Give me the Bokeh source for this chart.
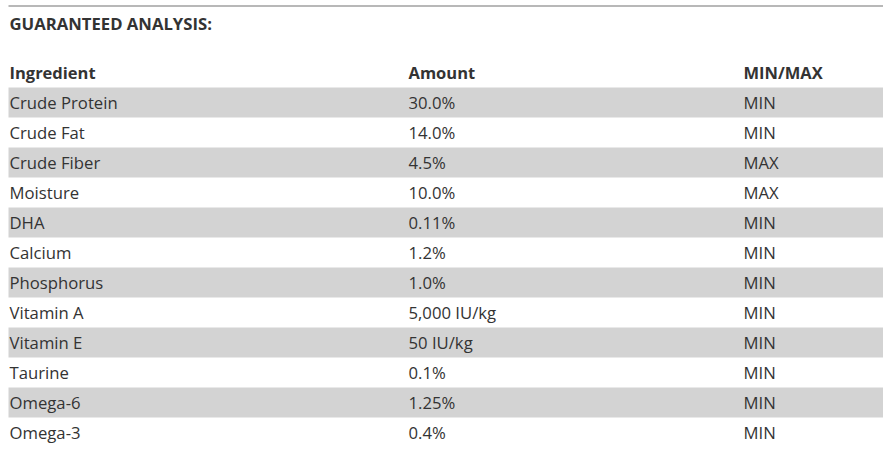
from bokeh.plotting import figure
from bokeh.models import Range1d, ColumnDataSource
from bokeh.core.properties import value
from bokeh.embed import file_html
from bokeh.resources import INLINE

title_text = "GUARANTEED ANALYSIS:"
headers = ["Ingredient", "Amount", "MIN/MAX"]
ingredients = ["Crude Protein", "Crude Fat", "Crude Fiber", "Moisture", "DHA", "Calcium",
               "Phosphorus", "Vitamin A", "Vitamin E", "Taurine", "Omega-6", "Omega-3"]
amounts = ["30.0%", "14.0%", "4.5%", "10.0%", "0.11%", "1.2%", "1.0%", "5,000 IU/kg",
           "50 IU/kg", "0.1%", "1.25%", "0.4%"]
minmax = ["MIN", "MIN", "MAX", "MAX", "MIN", "MIN", "MIN", "MIN", "MIN", "MIN", "MIN", "MIN"]

W, H = 883, 456
FONT = "Open Sans"
TXT = "#333333"
col_x = [9, 408, 743]
row_h = 30
first_row_top = 87
header_y = 72
title_y = 23
rule_y = 5.5

p = figure(width=W, height=H, output_backend="svg", toolbar_location=None,
           x_range=Range1d(0, W), y_range=Range1d(H, 0), min_border=0)
p.axis.visible = False
p.grid.visible = False
p.outline_line_color = None
p.background_fill_color = "white"
p.border_fill_color = "white"

# top rule
p.segment(x0=[col_x[0] - 1], y0=[rule_y], x1=[W], y1=[rule_y], line_color="#a0a0a0", line_width=1.5)

# title
p.text(x=[col_x[0]], y=[title_y], text=[title_text], text_font=value(FONT),
       text_font_style="bold", text_font_size="16.7px", text_color=TXT,
       text_baseline="middle", text_align="left")

# header
p.text(x=col_x, y=[header_y] * 3, text=headers, text_font=value(FONT),
       text_font_style="bold", text_font_size="16.5px", text_color=TXT,
       text_baseline="middle", text_align="left")

n = len(ingredients)
tops = [first_row_top + i * row_h for i in range(n)]
centers = [t + row_h / 2 for t in tops]

# striped bands (even rows)
band_src = ColumnDataSource(dict(
    top=[tops[i] for i in range(n) if i % 2 == 0],
    bottom=[tops[i] + row_h for i in range(n) if i % 2 == 0],
))
p.quad(left=col_x[0] - 1, right=W, top="top", bottom="bottom", source=band_src,
       fill_color="#d3d3d3", line_color=None)

for cx, col in zip(col_x, [ingredients, amounts, minmax]):
    p.text(x=[cx] * n, y=centers, text=col, text_font=value(FONT),
           text_font_size="16.7px", text_color=TXT,
           text_baseline="middle", text_align="left")

open("out.html", "w").write(file_html(p, INLINE))
